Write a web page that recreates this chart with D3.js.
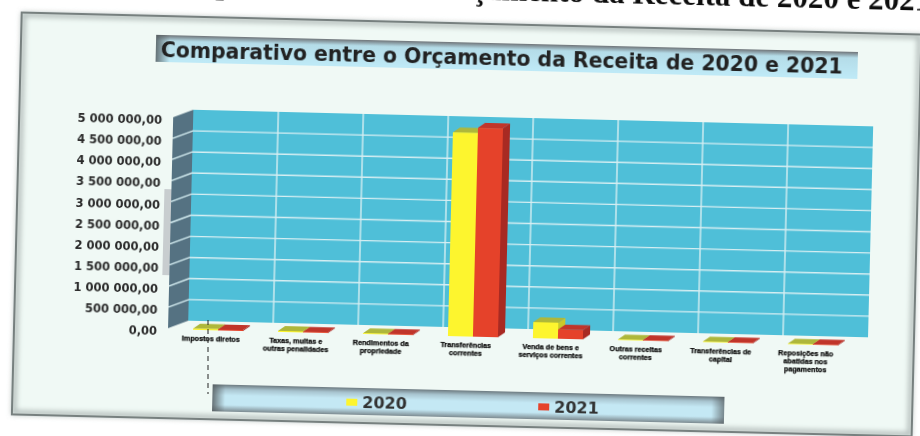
<!DOCTYPE html>
<html>
<head>
<meta charset="utf-8">
<script src="https://cdn.jsdelivr.net/npm/d3@7"></script>
<style>
  html, body { margin: 0; padding: 0; background: #fff; }
  svg { display: block; }
</style>
</head>
<body>
<svg id="chart" width="920" height="436"></svg>
<script>
"use strict";

// Data
const categories = [
  "Impostos diretos",
  "Taxas, multas e outras penalidades",
  "Rendimentos da propriedade",
  "Transferências correntes",
  "Venda de bens e serviços correntes",
  "Outras receitas correntes",
  "Transferências de capital",
  "Reposições não abatidas nos pagamentos"
];
const seriesNames = ["2020", "2021"];
const values2020 = [30000, 25000, 20000, 4830000, 380000, 15000, 15000, 15000];
const values2021 = [25000, 20000, 20000, 4950000, 220000, 15000, 15000, 15000];
const yTicks = [0, 500000, 1000000, 1500000, 2000000, 2500000, 3000000, 3500000, 4000000, 4500000, 5000000];
const chartTitle = "Comparativo entre o Orçamento da Receita de 2020 e 2021";
const pageTitle = "Comparativo entre o Orçamento da Receita de 2020 e 2021";

// The sheet sits slightly crooked on the scanner
const tilt = 1.4;

// Wall and depth layout
const wall = { left: 196, right: 876, top: 105, bottom: 316 };
const sideDx = -20, sideDy = 8;   // floor depth
const barDy = 9;                  // bars stand in front of the back wall
const depthDx = 7, depthDy = -5;  // depth of each bar

const colors = {
  "2020": { front: "#fdf52e", top: "#aeb73a", side: "#c9c92a" },
  "2021": { front: "#e5432a", top: "#c0352c", side: "#a82a24" }
};

const svg = d3.select("#chart");
const defs = svg.append("defs");

// Soft scan look
defs.append("filter").attr("id", "scan").append("feGaussianBlur").attr("stdDeviation", 0.45);
defs.append("filter").attr("id", "scanLabels").append("feGaussianBlur").attr("stdDeviation", 0.5);
defs.append("filter").attr("id", "scanEdge").append("feGaussianBlur").attr("stdDeviation", 2.5);

const bandGrad = defs.append("linearGradient").attr("id", "band").attr("x1", 0).attr("x2", 0).attr("y1", 0).attr("y2", 1);
bandGrad.append("stop").attr("offset", "0").attr("stop-color", "#6d7a80");
bandGrad.append("stop").attr("offset", "0.18").attr("stop-color", "#a8c4cf");
bandGrad.append("stop").attr("offset", "0.4").attr("stop-color", "#c4e8f4");
bandGrad.append("stop").attr("offset", "0.75").attr("stop-color", "#c4e8f4");
bandGrad.append("stop").attr("offset", "1").attr("stop-color", "#7c8a90");

const titleGrad = defs.append("linearGradient").attr("id", "titleBand").attr("x1", 0).attr("x2", 0).attr("y1", 0).attr("y2", 1);
titleGrad.append("stop").attr("offset", "0").attr("stop-color", "#6f7478");
titleGrad.append("stop").attr("offset", "0.22").attr("stop-color", "#b4dce8");
titleGrad.append("stop").attr("offset", "1").attr("stop-color", "#bfeaf7");

// Dark ends on the legend band, and the left end only on the title band
const endGrad = defs.append("linearGradient").attr("id", "bandEnds");
endGrad.append("stop").attr("offset", "0").attr("stop-color", "#555d60").attr("stop-opacity", 0.85);
endGrad.append("stop").attr("offset", "0.025").attr("stop-color", "#555d60").attr("stop-opacity", 0);
endGrad.append("stop").attr("offset", "0.975").attr("stop-color", "#555d60").attr("stop-opacity", 0);
endGrad.append("stop").attr("offset", "1").attr("stop-color", "#555d60").attr("stop-opacity", 0.7);

const leftEndGrad = defs.append("linearGradient").attr("id", "bandLeftEnd");
leftEndGrad.append("stop").attr("offset", "0").attr("stop-color", "#555d60").attr("stop-opacity", 0.85);
leftEndGrad.append("stop").attr("offset", "0.02").attr("stop-color", "#555d60").attr("stop-opacity", 0);

const root = svg.append("g")
  .attr("transform", `rotate(${tilt})`)
  .attr("filter", "url(#scan)");

// Bold line printed above the chart, cut by the top of the scan
root.append("text")
  .attr("x", 930).attr("y", -12)
  .attr("text-anchor", "end")
  .attr("font-family", "'Liberation Serif', serif")
  .attr("font-weight", "bold")
  .attr("font-size", 31)
  .attr("fill", "#111")
  .text(pageTitle);

// Outer panel
root.append("rect")
  .attr("x", 22).attr("y", 12).attr("width", 900).attr("height", 402)
  .attr("fill", "#f0f9f5");
root.append("rect")
  .attr("x", 24).attr("y", 14).attr("width", 896).attr("height", 398)
  .attr("fill", "none").attr("stroke", "#b4bebc").attr("stroke-width", 5)
  .attr("filter", "url(#scanEdge)");
root.append("rect")
  .attr("x", 22).attr("y", 12).attr("width", 900).attr("height", 402)
  .attr("fill", "none").attr("stroke", "#77807f").attr("stroke-width", 2);

// Title band
root.append("rect")
  .attr("x", 157).attr("y", 31).attr("width", 702).attr("height", 27)
  .attr("fill", "url(#titleBand)");
root.append("rect")
  .attr("x", 157).attr("y", 31).attr("width", 702).attr("height", 27)
  .attr("fill", "url(#bandLeftEnd)");
root.append("text")
  .attr("x", 162).attr("y", 53)
  .attr("font-family", "'DejaVu Sans', sans-serif")
  .attr("font-weight", "bold")
  .attr("font-size", 21)
  .attr("textLength", 682)
  .attr("lengthAdjust", "spacingAndGlyphs")
  .attr("fill", "#222")
  .text(chartTitle);

// Scales
const yScale = d3.scaleLinear().domain([0, 5000000]).range([wall.bottom, wall.top]);
const xScale = d3.scaleBand().domain(categories).range([wall.left, wall.right]);
const xSeries = d3.scaleBand().domain(seriesNames).range([5, 55]);

// Grey scan mark sticking out behind the left wall
root.append("rect")
  .attr("x", 169).attr("y", 185).attr("width", 10).attr("height", 86)
  .attr("fill", "#c8cdcf");

// Back wall
root.append("rect")
  .attr("x", wall.left).attr("y", wall.top)
  .attr("width", wall.right - wall.left).attr("height", wall.bottom - wall.top)
  .attr("fill", "#4fbfd8");

// Left wall
const line = d3.line();
root.append("path")
  .attr("d", line([
    [wall.left, wall.top], [wall.left + sideDx, wall.top + sideDy],
    [wall.left + sideDx, wall.bottom + sideDy], [wall.left, wall.bottom]
  ]) + "Z")
  .attr("fill", "#547282");

// Grid lines on both walls
root.append("g").selectAll("path")
  .data(yTicks.slice(1, -1))
  .join("path")
  .attr("d", d => line([
    [wall.left + sideDx, yScale(d) + sideDy], [wall.left, yScale(d)], [wall.right, yScale(d)]
  ]))
  .attr("fill", "none").attr("stroke", "#d6eef2").attr("stroke-width", 1.4);

root.append("g").selectAll("line")
  .data(categories.slice(1))
  .join("line")
  .attr("x1", d => xScale(d)).attr("x2", d => xScale(d))
  .attr("y1", wall.top).attr("y2", wall.bottom)
  .attr("stroke", "#d6eef2").attr("stroke-width", 1.4);

// Y axis labels
const yAxis = d3.axisLeft(yScale)
  .tickValues(yTicks)
  .tickSize(0)
  .tickFormat(d => d3.format(",.2f")(d).replace(/,/g, " ").replace(".", ","));

const yAxisG = root.append("g")
  .attr("transform", `translate(${wall.left + sideDx - 8},${sideDy + 3})`)
  .call(yAxis);
yAxisG.select(".domain").remove();
yAxisG.selectAll("text")
  .attr("font-family", "'DejaVu Sans', sans-serif")
  .attr("font-weight", "bold")
  .attr("font-size", 11.5)
  .attr("fill", "#2a2a2a");

// Bars, one group per series
const barRows = [values2020, values2021];
const barGroup = root.append("g");
barRows.forEach((vals, i) => {
  const name = seriesNames[i];
  const w = xSeries.bandwidth();
  const g = barGroup.append("g");
  const xOf = (j) => xScale(categories[j]) + xSeries(name);
  const yOf = (v) => yScale(v) + barDy;

  g.selectAll(".side")
    .data(vals)
    .join("path")
    .attr("class", "side")
    .attr("fill", colors[name].side)
    .attr("d", (v, j) => line([
      [xOf(j) + w, yOf(v)], [xOf(j) + w + depthDx, yOf(v) + depthDy],
      [xOf(j) + w + depthDx, yOf(0) + depthDy], [xOf(j) + w, yOf(0)]
    ]) + "Z");

  g.selectAll(".top")
    .data(vals)
    .join("path")
    .attr("class", "top")
    .attr("fill", colors[name].top)
    .attr("d", (v, j) => line([
      [xOf(j), yOf(v)], [xOf(j) + depthDx, yOf(v) + depthDy],
      [xOf(j) + w + depthDx, yOf(v) + depthDy], [xOf(j) + w, yOf(v)]
    ]) + "Z");

  g.selectAll(".front")
    .data(vals)
    .join("rect")
    .attr("class", "front")
    .attr("fill", colors[name].front)
    .attr("x", (v, j) => xOf(j))
    .attr("y", v => yOf(v))
    .attr("width", w)
    .attr("height", v => yOf(0) - yOf(v));
});

// Category labels, wrapped by hand at the word breaks of the reference
const labelLines = [
  ["Impostos diretos"],
  ["Taxas, multas e", "outras penalidades"],
  ["Rendimentos da", "propriedade"],
  ["Transferências", "correntes"],
  ["Venda de bens e", "serviços correntes"],
  ["Outras receitas", "correntes"],
  ["Transferências de", "capital"],
  ["Reposições não", "abatidas nos", "pagamentos"]
];
const labelsG = root.append("g").attr("filter", "url(#scanLabels)");
categories.forEach((c, i) => {
  const t = labelsG.append("text")
    .attr("x", xScale(c) + 23)
    .attr("y", 336)
    .attr("text-anchor", "middle")
    .attr("font-family", "'Liberation Sans', sans-serif")
    .attr("font-weight", "bold")
    .attr("font-size", 7.2)
    .attr("fill", "#000")
    .attr("stroke", "#000")
    .attr("stroke-width", 0.25);
  labelLines[i].forEach((s, k) => {
    t.append("tspan").attr("x", xScale(c) + 23).attr("dy", k ? 8 : 0).text(s);
  });
});

// Legend
const legendX = d3.scalePoint().domain(seriesNames).range([368, 560]);
root.append("rect")
  .attr("x", 222).attr("y", 379).attr("width", 512).attr("height", 27)
  .attr("fill", "url(#band)");
root.append("rect")
  .attr("x", 222).attr("y", 379).attr("width", 512).attr("height", 27)
  .attr("fill", "url(#bandEnds)");
const legendItems = root.append("g").selectAll("g")
  .data(seriesNames)
  .join("g")
  .attr("transform", d => `translate(${legendX(d)},393)`);
legendItems.append("rect")
  .attr("x", -12).attr("y", -3).attr("width", 11).attr("height", 7)
  .attr("fill", d => colors[d].front);
legendItems.append("text")
  .attr("x", 4).attr("y", 6)
  .attr("font-family", "'DejaVu Sans', sans-serif")
  .attr("font-weight", "bold")
  .attr("font-size", 16)
  .attr("fill", "#333")
  .text(d => d);

// Dashed pen stroke crossing the scan, not part of the chart
svg.append("line")
  .attr("x1", 208).attr("x2", 208).attr("y1", 320).attr("y2", 394)
  .attr("stroke", "#222").attr("stroke-width", 1).attr("stroke-dasharray", "5 4");
</script>
</body>
</html>
